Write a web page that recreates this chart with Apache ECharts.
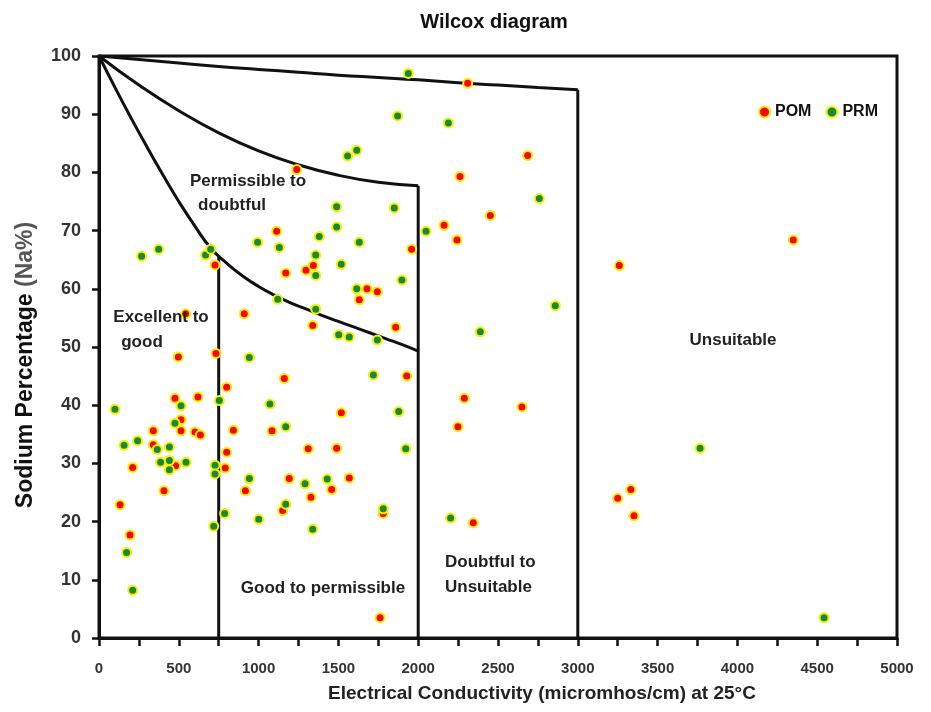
<!DOCTYPE html>
<html>
<head>
<meta charset="utf-8">
<script src="https://cdn.jsdelivr.net/npm/echarts@6/dist/echarts.min.js"></script>
<style>
html,body{margin:0;padding:0;background:#fff;}
#chart{width:931px;height:712px;}
</style>
</head>
<body>
<div id="chart"></div>
<script>
// ---- Data (EC in micromhos/cm, Na%) ----
const seriesNames = ['POM', 'PRM'];

const pomPoints = [
  [1239,80.5],[727,64.1],[1113,69.9],[1170,62.7],[1297,63.2],[1343,64.0],[1339,53.7],
  [543,55.7],[910,55.7],[497,48.3],[733,48.9],[2310,95.3],[2686,82.9],[2262,79.3],
  [2452,72.6],[2162,70.9],[2243,68.4],[1959,66.8],[1679,60.0],[1744,59.5],[1631,58.1],
  [1859,53.4],[3260,64.0],[4350,68.4],[3332,25.5],[3250,24.0],[3352,21.0],[1928,45.0],
  [1518,38.7],[1311,32.5],[1489,32.6],[1568,27.5],[1458,25.5],[1328,24.2],[1781,21.4],
  [2289,41.2],[2650,39.7],[2249,36.3],[2345,19.8],[1761,3.5],[211,29.3],[132,22.9],
  [194,17.7],[340,35.6],[340,33.2],[407,25.3],[480,29.6],[476,41.2],[514,37.5],
  [514,35.6],[620,41.4],[602,35.4],[635,34.9],[800,43.1],[842,35.7],[800,31.9],
  [791,29.2],[917,25.3],[1084,35.6],[1161,44.6],[1192,27.4],[1151,21.9]
];

const prmPoints = [
  [267,65.6],[374,66.8],[668,65.8],[700,66.8],[994,68.0],[1130,67.1],[1380,69.0],
  [1358,65.8],[1358,62.3],[1120,58.2],[1358,56.5],[942,48.2],[1938,97.0],[1871,89.7],
  [2189,88.5],[1615,83.8],[1558,82.8],[2759,75.5],[1489,74.1],[1850,73.9],[1489,70.6],
  [2049,69.9],[1631,68.0],[1518,64.2],[1898,61.5],[1615,60.0],[1502,52.1],[1568,51.7],
  [1744,51.2],[2389,52.6],[2859,57.1],[3766,32.6],[4543,3.5],[1719,45.2],[1878,38.9],
  [1922,32.5],[1291,26.5],[1430,27.3],[1781,22.2],[1339,18.7],[2203,20.6],[100,39.3],
  [157,33.1],[242,33.9],[173,14.7],[211,8.2],[365,32.4],[386,30.2],[441,32.8],
  [441,30.5],[441,28.9],[514,39.9],[476,36.9],[545,30.2],[727,29.7],[727,28.2],
  [719,19.2],[754,40.8],[787,21.4],[942,27.4],[1001,20.4],[1071,40.2],[1170,36.3],
  [1170,23.0]
];

// Wilcox class boundaries
const curveUnsuitable = [[0,100],[250,99.4],[500,98.8],[750,98.2],[1000,97.7],[1250,97.2],[1500,96.7],[1750,96.3],[2000,95.9],[2250,95.4],[2500,95.0],[2750,94.6],[3000,94.2]];
const curveDoubtful = [[0,100],[250,95.0],[500,90.6],[750,86.8],[1000,83.7],[1250,81.3],[1500,79.5],[1750,78.3],[2000,77.7]];
const curvePermissible = [[0,100],[100,94.6],[200,89.4],[300,84.4],[400,79.6],[500,75.0],[600,70.8],[700,67.0],[800,64.4],[900,62.2],[1000,60.4],[1100,58.9],[1200,57.6],[1300,56.5],[1400,55.4],[1500,54.4],[1600,53.4],[1700,52.4],[1800,51.4],[1900,50.4],[2000,49.3]];
const line750 = [[750,0],[750,65.7]];
const line2000 = [[2000,0],[2000,77.7]];
const line3000 = [[3000,0],[3000,94.2]];

const xMin = 0, xMax = 5000, xStep = 250, xLabelStep = 500;
const yMin = 0, yMax = 100, yStep = 10;

const regionLabels = [
  {text:'Permissible to', x:248, y:181},
  {text:'doubtful', x:232, y:205},
  {text:'Excellent to', x:161, y:317},
  {text:'good', x:142, y:342},
  {text:'Good to permissible', x:323, y:588},
  {text:'Doubtful to', x:445, y:562, align:'left'},
  {text:'Unsuitable', x:445, y:587, align:'left'},
  {text:'Unsuitable', x:733, y:340}
];

// ---- Chart ----
const FONT = 'Arial, "Liberation Sans", Helvetica, sans-serif';
const chart = echarts.init(document.getElementById('chart'), null, {renderer:'canvas'});

const boundaryStyle = {color:'#111', width:3};
function boundary(data, smooth){
  return {type:'line', data:data, symbol:'none', smooth:smooth ? 0.5 : false,
    lineStyle:boundaryStyle, silent:true, z:1, animation:false};
}

const graphics = [
  {type:'text', x:494, y:22, style:{text:'Wilcox diagram', font:'bold 20px ' + FONT, fill:'#111', textAlign:'center', textVerticalAlign:'middle'}},
  {type:'text', x:542, y:694, style:{text:'Electrical Conductivity (micromhos/cm) at 25°C', font:'bold 19px ' + FONT, fill:'#222', textAlign:'center', textVerticalAlign:'middle'}},
  {type:'text', x:26, y:365, rotation:Math.PI/2, style:{
    text:'{a|Sodium Percentage }{b|(Na%)}',
    rich:{a:{font:'bold 23px ' + FONT, fill:'#111'}, b:{font:'bold 23px ' + FONT, fill:'#555'}},
    textAlign:'center', textVerticalAlign:'middle'}}
];
regionLabels.forEach(function(r){
  graphics.push({type:'text', x:r.x, y:r.y, z:5, style:{text:r.text, font:'bold 17px ' + FONT, fill:'#222',
    textAlign:r.align || 'center', textVerticalAlign:'middle'}});
});

const option = {
  backgroundColor:'#fff',
  animation:false,
  grid:{left:99, right:34, top:56, bottom:74, show:true, borderColor:'#111', borderWidth:3, backgroundColor:'transparent'},
  legend:{
    data:seriesNames, left:753, top:99, orient:'horizontal', icon:'circle',
    itemWidth:11, itemHeight:11, itemGap:14,
    textStyle:{fontFamily:FONT, fontWeight:'bold', fontSize:16, color:'#111'}
  },
  xAxis:{
    type:'value', min:xMin, max:xMax, interval:xStep,
    axisLine:{show:true, onZero:false, lineStyle:{color:'#111', width:3}},
    axisTick:{show:true, inside:false, length:8, lineStyle:{color:'#111', width:2.5}},
    axisLabel:{margin:23, fontFamily:FONT, fontWeight:'bold', fontSize:15, color:'#333',
      formatter:function(v){ return (v % xLabelStep === 0) ? String(v) : ''; }},
    splitLine:{show:false}
  },
  yAxis:{
    type:'value', min:yMin, max:yMax, interval:yStep,
    axisLine:{show:true, onZero:false, lineStyle:{color:'#111', width:3}},
    axisTick:{show:true, inside:false, length:7, lineStyle:{color:'#111', width:2.5}},
    axisLabel:{margin:18, fontFamily:FONT, fontWeight:'bold', fontSize:18, color:'#333'},
    splitLine:{show:false}
  },
  graphic:graphics,
  series:[
    boundary(curveUnsuitable, true),
    boundary(curveDoubtful, true),
    boundary(curvePermissible, true),
    boundary(line750, false),
    boundary(line2000, false),
    boundary(line3000, false),
    {name:'POM', type:'scatter', data:pomPoints, symbol:'circle', symbolSize:9, z:3,
      itemStyle:{color:'#ff0000', borderColor:'#f7f000', borderWidth:2, opacity:1}},
    {name:'PRM', type:'scatter', data:prmPoints, symbol:'circle', symbolSize:9, z:3,
      itemStyle:{color:'#168a3a', borderColor:'#f7f000', borderWidth:2, opacity:1}}
  ]
};
chart.setOption(option);
</script>
</body>
</html>
